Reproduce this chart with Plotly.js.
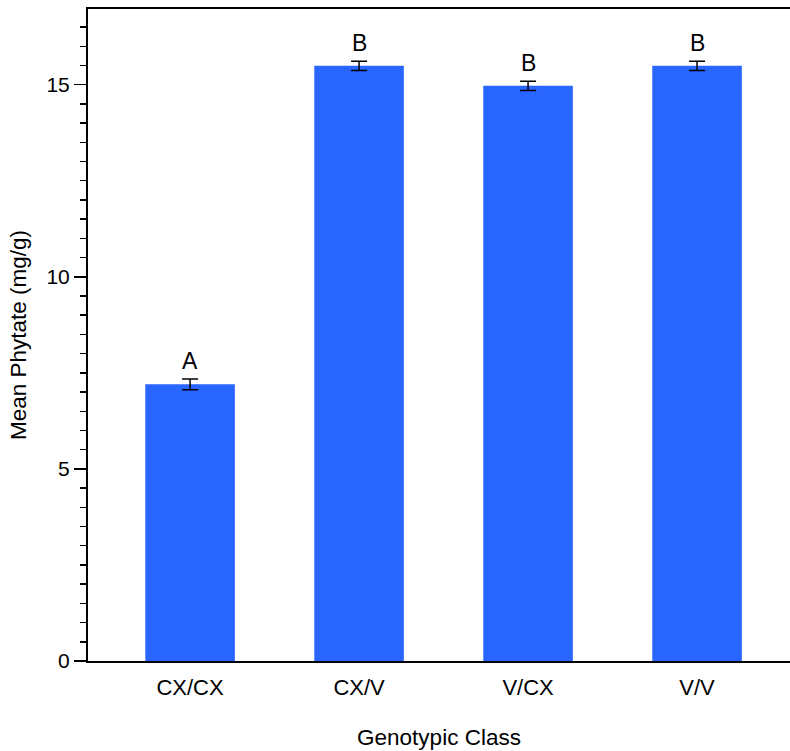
<!DOCTYPE html>
<html>
<head>
<meta charset="utf-8">
<script src="https://cdn.plot.ly/plotly-3.0.1.min.js"></script>
<style>html,body{margin:0;padding:0;background:#fff;}#chart{width:790px;height:751px;}</style>
</head>
<body>
<div id="chart"></div>
<script>
const categories = ["CX/CX", "CX/V", "V/CX", "V/V"];
const meanPhytate = [7.2, 15.49, 14.97, 15.49];
const stdErr = [0.14, 0.12, 0.12, 0.12];
const groupLetters = ["A", "B", "B", "B"];
const yTickVals = [0, 5, 10, 15];

const barColor = "#2965ff";
const fontFam = "Liberation Sans, Arial, sans-serif";

const trace = {
  type: "bar",
  x: categories,
  y: meanPhytate,
  width: 0.53,
  marker: {color: barColor, line: {width: 0}},
  error_y: {type: "data", array: stdErr, visible: true, color: "#000", thickness: 1.5, width: 8},
  hoverinfo: "skip"
};

const annotations = categories.map((c, i) => ({
  x: c, y: meanPhytate[i] + stdErr[i], xref: "x", yref: "y",
  text: groupLetters[i], showarrow: false, yanchor: "bottom", yshift: 3,
  font: {family: fontFam, size: 23, color: "#000"}
}));

const layout = {
  width: 790, height: 751,
  margin: {l: 88, r: 0, t: 9, b: 90},
  paper_bgcolor: "#fff", plot_bgcolor: "#fff",
  showlegend: false,
  font: {family: fontFam, color: "#000"},
  xaxis: {
    type: "category",
    range: [-0.604, 3.55],
    showline: true, mirror: true, linecolor: "#000", linewidth: 2,
    ticks: "", showgrid: false, zeroline: false,
    ticklabelstandoff: 6,
    tickfont: {family: fontFam, size: 22, color: "#000"},
    title: {text: "Genotypic Class", font: {family: fontFam, size: 22.5, color: "#000"}, standoff: 30}
  },
  yaxis: {
    range: [0, 16.97],
    tickvals: yTickVals, ticktext: yTickVals.map(String),
    showline: true, linecolor: "#000", linewidth: 2,
    ticks: "outside", ticklen: 12, tickwidth: 1.5, tickcolor: "#000",
    minor: {dtick: 0.5, ticks: "outside", ticklen: 6, tickwidth: 1.5, tickcolor: "#000", showgrid: false},
    showgrid: false, zeroline: false,
    tickfont: {family: fontFam, size: 21, color: "#000"},
    title: {text: "Mean Phytate (mg/g)", font: {family: fontFam, size: 22.5, color: "#000"}, standoff: 14}
  },
  annotations: annotations
};

Plotly.newPlot("chart", [trace], layout, {displayModeBar: false, staticPlot: true});
</script>
</body>
</html>
